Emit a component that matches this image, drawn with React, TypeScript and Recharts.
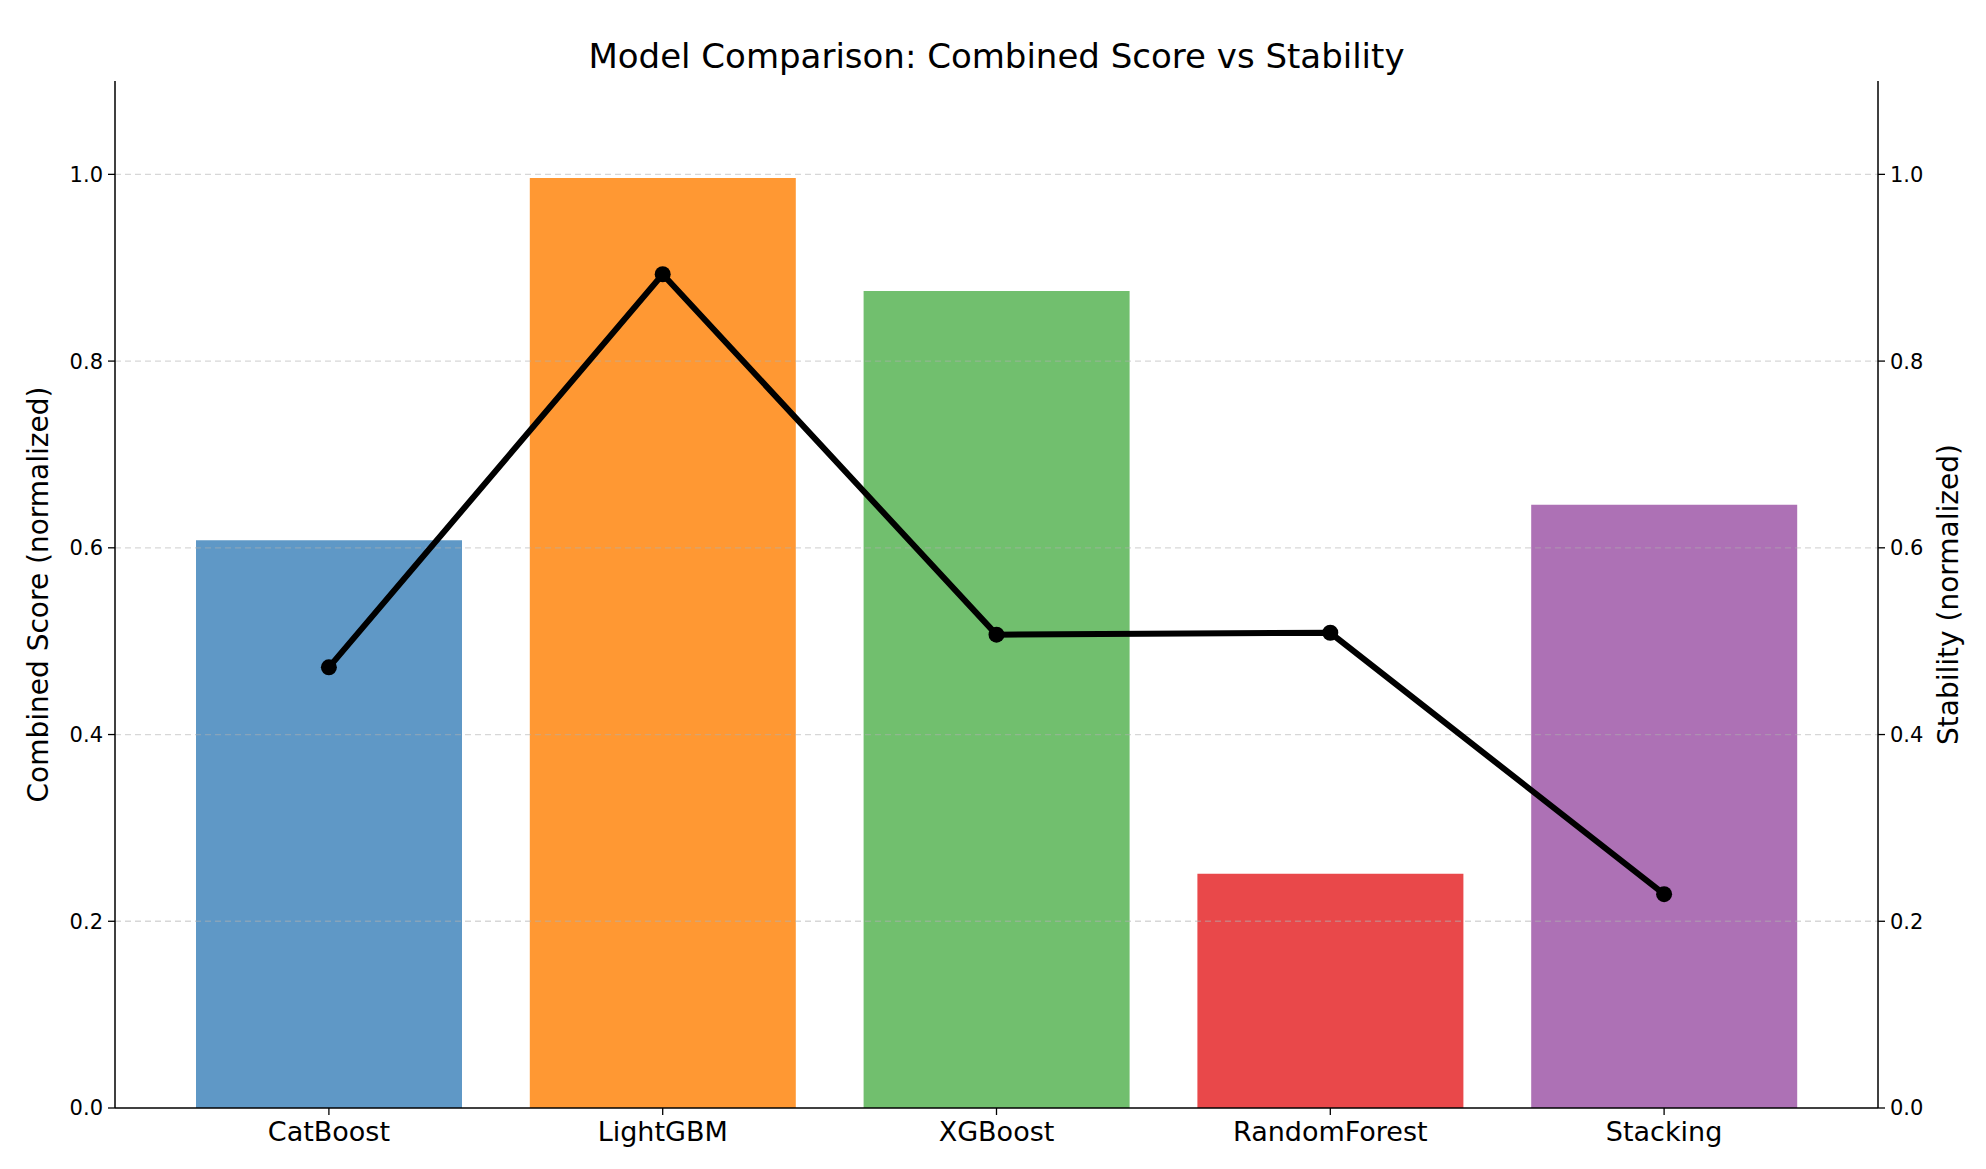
import {
    ComposedChart, Bar, Line, XAxis, YAxis, Cell, ReferenceLine, Label,
} from 'recharts';

const models = ['CatBoost', 'LightGBM', 'XGBoost', 'RandomForest', 'Stacking'];
const combinedScore = [0.608, 0.996, 0.875, 0.251, 0.646];
const stability = [0.472, 0.893, 0.507, 0.509, 0.229];
const barColors = ['#5F98C6', '#FF9833', '#71BF6E', '#E9484A', '#AD71B5'];
const yTicks = [0, 0.2, 0.4, 0.6, 0.8, 1.0];

const chartData = models.map((name, i) => ({
    name,
    score: combinedScore[i],
    stability: stability[i],
}));

const FONT = 'DejaVu Sans, sans-serif';

export default function App() {
    return (
        <div style={{ position: 'absolute', left: 0, top: 0, width: 1986, height: 1169, background: '#fff', fontFamily: FONT }}>
            {/* title sits above the plot box */}
            <div
                style={{
                    position: 'absolute', left: 115, width: 1763, top: 36, textAlign: 'center',
                    fontSize: 34, color: '#000', lineHeight: '40px',
                }}
            >
                Model Comparison: Combined Score vs Stability
            </div>
            <ComposedChart
                width={1986}
                height={1169}
                data={chartData}
                margin={{ top: 81, right: 28, bottom: 11, left: 35 }}
            >
                <XAxis
                    dataKey="name"
                    xAxisId="bottom"
                    height={50}
                    padding={{ left: 47, right: 47 }}
                    tick={{ fontSize: 27, fill: '#000', fontFamily: FONT }}
                    tickMargin={7}
                    tickLine={{ stroke: '#000', strokeWidth: 1.3 }}
                    tickSize={7}
                    axisLine={{ stroke: '#000', strokeWidth: 1.5 }}
                />
                {/* top spine only */}
                <XAxis
                    dataKey="name"
                    xAxisId="top"
                    orientation="top"
                    height={0}
                    padding={{ left: 47, right: 47 }}
                    tick={false}
                    tickLine={false}
                    axisLine={{ stroke: '#000', strokeWidth: 1.5 }}
                />
                <YAxis
                    yAxisId="left"
                    width={80}
                    domain={[0, 1.1]}
                    ticks={yTicks}
                    tickFormatter={(v) => v.toFixed(1)}
                    tick={{ fontSize: 21, fill: '#000', fontFamily: FONT }}
                    tickLine={{ stroke: '#000', strokeWidth: 1.3 }}
                    tickSize={7}
                    tickMargin={5}
                    axisLine={{ stroke: '#000', strokeWidth: 1.5 }}
                >
                    <Label
                        value="Combined Score (normalized)"
                        angle={-90}
                        position="insideLeft"
                        offset={3}
                        style={{ fontSize: 28, fill: '#000', fontFamily: FONT, textAnchor: 'middle' }}
                    />
                </YAxis>
                <YAxis
                    yAxisId="right"
                    orientation="right"
                    width={80}
                    domain={[0, 1.1]}
                    ticks={yTicks}
                    tickFormatter={(v) => v.toFixed(1)}
                    tick={{ fontSize: 21, fill: '#000', fontFamily: FONT }}
                    tickLine={{ stroke: '#000', strokeWidth: 1.3 }}
                    tickSize={7}
                    tickMargin={5}
                    axisLine={{ stroke: '#000', strokeWidth: 1.5 }}
                >
                    <Label
                        value="Stability (normalized)"
                        angle={-90}
                        position="insideRight"
                        offset={10}
                        style={{ fontSize: 28, fill: '#000', fontFamily: FONT, textAnchor: 'middle' }}
                    />
                </YAxis>
                <Bar dataKey="score" xAxisId="bottom" yAxisId="left" barSize={266} isAnimationActive={false}>
                    {chartData.map((_, i) => (
                        <Cell key={i} fill={barColors[i]} />
                    ))}
                </Bar>
                {/* dashed grid drawn over the bars, like the original */}
                {yTicks.slice(1).map((t) => (
                    <ReferenceLine
                        key={t}
                        y={t}
                        xAxisId="bottom"
                        yAxisId="left"
                        stroke="#b0b0b0"
                        strokeOpacity={0.5}
                        strokeWidth={1.3}
                        strokeDasharray="6 4"
                    />
                ))}
                <Line
                    dataKey="stability"
                    xAxisId="bottom"
                    yAxisId="right"
                    stroke="#000"
                    strokeWidth={6}
                    dot={{ r: 8, fill: '#000', stroke: '#000', strokeWidth: 0 }}
                    activeDot={false}
                    isAnimationActive={false}
                />
            </ComposedChart>
        </div>
    );
}
